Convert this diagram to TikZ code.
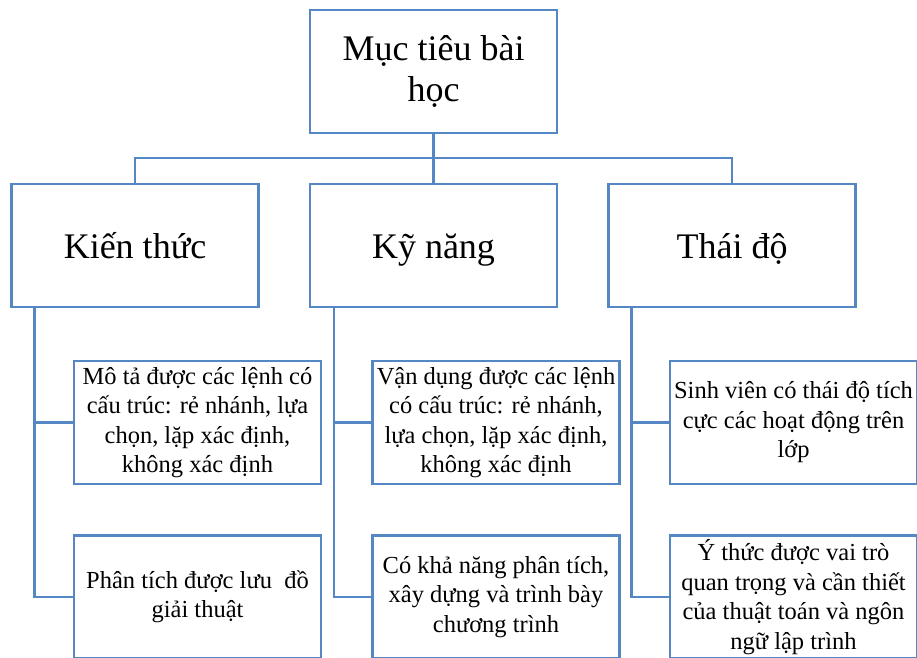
\documentclass[tikz,border=0pt]{standalone}
\usepackage{fontspec}
\setmainfont{Liberation Serif}
\usetikzlibrary{calc}
\definecolor{boxblue}{RGB}{84,135,196}
\tikzset{
  box/.style={draw=boxblue, line width=2.2pt, fill=white, align=center,
    minimum width=247pt, minimum height=123pt, inner sep=0pt, text=black},
  bigbox/.style={box, font=\fontsize{36}{41}\selectfont},
  branchbox/.style={bigbox, text height=33pt, text depth=8pt},
  smallbox/.style={box, font=\fontsize{24.5}{29.5}\selectfont},
  link/.style={draw=boxblue, line width=2.2pt}
}
\begin{document}
\begin{tikzpicture}[x=1pt, y=-1pt]
  \useasboundingbox (0,0) rectangle (917,657);
  % root
  \node[bigbox] (root) at (433.5,71.5) {Mục tiêu bài\\học};
  % three branches
  \node[branchbox] (kt) at (135,245.5) {Kiến thức};
  \node[branchbox] (kn) at (433.5,245.5) {Kỹ năng};
  \node[branchbox] (td) at (732,245.5) {Thái độ};
  % leaves
  \node[smallbox] (kt1) at (197.5,422.5) {Mô tả được các lệnh có\\cấu trúc: rẻ nhánh, lựa\\chọn, lặp xác định,\\không xác định};
  \node[smallbox] (kt2) at (197.5,597) {Phân tích được lưu\ \ đồ\\giải thuật};
  \node[smallbox] (kn1) at (496,422.5) {Vận dụng được các lệnh\\có cấu trúc: rẻ nhánh,\\lựa chọn, lặp xác định,\\không xác định};
  \node[smallbox] (kn2) at (496,597) {Có khả năng phân tích,\\xây dựng và trình bày\\chương trình};
  \node[smallbox] (td1) at (793.5,422.5) {Sinh viên có thái độ tích\\cực các hoạt động trên\\lớp};
  \node[smallbox] (td2) at (793.5,597) {Ý thức được vai trò\\quan trọng và cần thiết\\của thuật toán và ngôn\\ngữ lập trình};
  % root to branches
  \coordinate (bus) at (0,158);
  \draw[link] (root.south) -- (kn.north);
  \draw[link] (kt.north) -- (kt.north |- bus) -- (td.north |- bus) -- (td.north);
  % spines under each branch
  \coordinate (ktsp) at ($(kt.south west)+(24,0)$);
  \coordinate (knsp) at ($(kn.south west)+(25,0)$);
  \coordinate (tdsp) at ($(td.south west)+(24,0)$);
  \draw[link] (ktsp) |- (kt1.west);
  \draw[link] (ktsp) |- (kt2.west);
  \draw[link] (knsp) |- (kn1.west);
  \draw[link] (knsp) |- (kn2.west);
  \draw[link] (tdsp) |- (td1.west);
  \draw[link] (tdsp) |- (td2.west);
\end{tikzpicture}
\end{document}
